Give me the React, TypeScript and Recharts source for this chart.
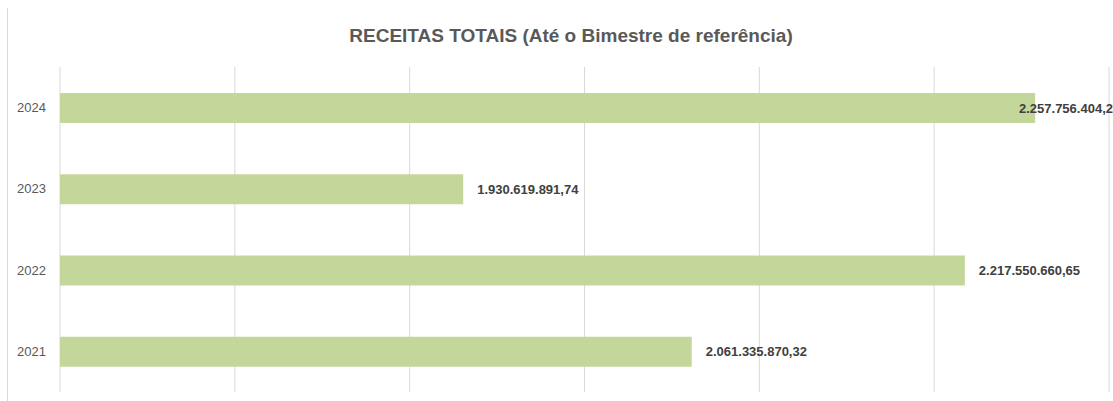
import React from 'react';
import { BarChart, Bar, XAxis, YAxis, CartesianGrid, LabelList } from 'recharts';

const years = ['2024', '2023', '2022', '2021'];
const receitas = [2257756404.25, 1930619891.74, 2217550660.65, 2061335870.32];
const xTicks = [1700000000, 1800000000, 1900000000, 2000000000, 2100000000, 2200000000, 2300000000];

const data = years.map((y, i) => ({ year: y, value: receitas[i] }));

const CHART_W = 1105;
const CHART_H = 393;
const PLOT_RIGHT = 1101;

function fmt(v: number): string {
  const fixed = v.toFixed(2);
  const [intPart, dec] = fixed.split('.');
  const withDots = intPart.replace(/\B(?=(\d{3})+(?!\d))/g, '.');
  return withDots + ',' + dec;
}

const renderLabel = (props: any) => {
  const { x, y, width, height, value } = props;
  const tx = Math.min(Number(x) + Number(width) + 14, PLOT_RIGHT - 90);
  const ty = Number(y) + Number(height) / 2;
  return (
    <text
      x={tx}
      y={ty}
      dy="0.36em"
      fill="#404040"
      fontSize={13}
      fontWeight="bold"
      fontFamily="'Liberation Sans', Arial, sans-serif"
      textAnchor="start"
    >
      {fmt(Number(value))}
    </text>
  );
};

export default function App() {
  return (
    <div
      style={{
        position: 'absolute',
        left: 7,
        top: 8,
        borderLeft: '1px solid #d9d9d9',
        width: CHART_W,
        height: CHART_H,
        overflow: 'hidden',
      }}
    >
      <div
        style={{
          position: 'absolute',
          left: 0,
          top: 16,
          width: 1126,
          textAlign: 'center',
          fontFamily: "'Liberation Sans', Arial, sans-serif",
          fontWeight: 'bold',
          fontSize: 19,
          color: '#595959',
          lineHeight: '24px',
          whiteSpace: 'nowrap',
        }}
      >
        RECEITAS TOTAIS (Até o Bimestre de referência)
      </div>
      <BarChart
        width={CHART_W}
        height={CHART_H}
        data={data}
        layout="vertical"
        margin={{ top: 59, right: CHART_W - PLOT_RIGHT, bottom: 9, left: 0 }}
        barCategoryGap="0%"
        style={{ overflow: 'visible' }}
      >
        <CartesianGrid horizontal={false} stroke="#d9d9d9" />
        <XAxis type="number" domain={[1700000000, 2300000000]} ticks={xTicks} hide />
        <YAxis
          type="category"
          dataKey="year"
          width={52}
          tickLine={false}
          axisLine={false}
          tickMargin={8}
          tick={{ fill: '#595959', fontSize: 13, fontFamily: "'Liberation Sans', Arial, sans-serif" }}
        />
        <Bar dataKey="value" fill="#c4d79b" barSize={30} isAnimationActive={false}>
          <LabelList dataKey="value" content={renderLabel} />
        </Bar>
      </BarChart>
    </div>
  );
}
